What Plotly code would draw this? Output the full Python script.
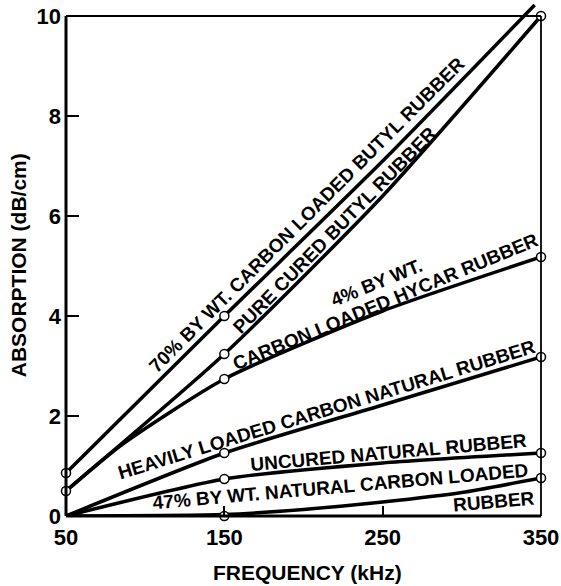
import plotly.graph_objects as go

# ---- data ----
freq_70 = [50, 150, 250, 346]
abs_70 = [0.86, 4.0, 7.1, 10.22]

freq_pure = [50, 150, 250, 350]
abs_pure = [0.5, 3.24, 6.4, 10.0]

freq_hycar = [50, 85, 150, 250, 350]
abs_hycar = [0.5, 1.42, 2.74, 4.1, 5.18]

freq_heavy = [50, 150, 250, 350]
abs_heavy = [0.0, 1.26, 2.22, 3.18]

freq_uncured = [50, 150, 250, 350]
abs_uncured = [0.0, 0.74, 1.06, 1.26]

freq_47 = [50, 150, 200, 250, 300, 350]
abs_47 = [0.0, 0.03, 0.13, 0.28, 0.47, 0.76]

# measured points (open circles)
pts_freq = [50, 50, 150, 150, 150, 150, 150, 150, 350, 350, 350, 350, 350]
pts_abs = [0.86, 0.5, 4.0, 3.24, 2.74, 1.26, 0.74, 0.0, 10.0, 5.18, 3.18, 1.26, 0.76]

x_ticks = [50, 150, 250, 350]
y_ticks = [0, 2, 4, 6, 8, 10]

labels = [
    ("70% BY WT. CARBON LOADED BUTYL RUBBER", 202.2, 6.04, -45),
    ("PURE CURED BUTYL RUBBER", 219.3, 5.72, -45.5),
    ("4% BY WT.", 246.4, 4.68, -22),
    ("CARBON LOADED HYCAR RUBBER", 252.1, 4.3, -22.5),
    ("HEAVILY LOADED CARBON NATURAL RUBBER", 214.8, 2.13, -17),
    ("UNCURED NATURAL RUBBER", 253.4, 1.27, -5),
    ("47% BY WT. NATURAL CARBON LOADED", 223.1, 0.6, -5),
    ("RUBBER", 320.3, 0.3, -5),
]

FONT = "Liberation Sans, Arial, Helvetica, sans-serif"
X0, X1 = 50, 350
Y0, Y1 = 0, 10.3

fig = go.Figure()
series = [
    (freq_70, abs_70), (freq_pure, abs_pure), (freq_hycar, abs_hycar),
    (freq_heavy, abs_heavy), (freq_uncured, abs_uncured), (freq_47, abs_47),
]
for fx, fy in series:
    fig.add_trace(go.Scatter(
        x=fx, y=fy, mode="lines",
        line=dict(color="black", width=3.5, shape="spline", smoothing=0.6),
        showlegend=False, hoverinfo="skip"))

fig.add_trace(go.Scatter(
    x=pts_freq, y=pts_abs, mode="markers", cliponaxis=False,
    marker=dict(symbol="circle", size=9, color="white",
                line=dict(color="black", width=1.5)),
    showlegend=False, hoverinfo="skip"))

def px(v):
    return (v - X0) / (X1 - X0)

def py(v):
    return (v - Y0) / (Y1 - Y0)

shapes = [
    dict(type="line", xref="paper", yref="paper", x0=px(50), x1=px(50), y0=py(0), y1=py(10),
         line=dict(color="black", width=3)),
    dict(type="line", xref="paper", yref="paper", x0=px(50), x1=px(350), y0=py(0), y1=py(0),
         line=dict(color="black", width=3)),
    dict(type="line", xref="paper", yref="paper", x0=px(50), x1=px(350), y0=py(10), y1=py(10),
         line=dict(color="black", width=1.8)),
    dict(type="line", xref="paper", yref="paper", x0=px(350), x1=px(350), y0=py(0), y1=py(10),
         line=dict(color="black", width=1.8)),
]

annotations = []
for text, lx, ly, ang in labels:
    annotations.append(dict(
        text=text, x=lx, y=ly, xref="x", yref="y", showarrow=False,
        textangle=ang, xanchor="center", yanchor="middle",
        font=dict(family=FONT, size=19, color="black", weight="bold")))

annotations.append(dict(
    text="FREQUENCY (kHz)", xref="paper", yref="paper", x=0.509, y=-0.109,
    showarrow=False, xanchor="center", yanchor="middle",
    font=dict(family=FONT, size=21, color="black", weight="bold")))
annotations.append(dict(
    text="ABSORPTION (dB/cm)", xref="paper", yref="paper", x=-0.101, y=0.487,
    showarrow=False, xanchor="center", yanchor="middle", textangle=-90,
    font=dict(family=FONT, size=21, color="black", weight="bold")))

fig.update_layout(
    width=561, height=586,
    margin=dict(l=66, r=20, t=1, b=70),
    paper_bgcolor="white", plot_bgcolor="white",
    shapes=shapes, annotations=annotations,
    xaxis=dict(range=[X0, X1], tickvals=x_ticks, ticks="inside", ticklen=10,
               tickwidth=1.5, tickcolor="black", showgrid=False, zeroline=False,
               showline=False, ticklabelstandoff=6,
               tickfont=dict(family=FONT, size=22, color="black", weight="bold")),
    yaxis=dict(range=[Y0, Y1], tickvals=y_ticks, ticks="inside", ticklen=13,
               tickwidth=2, tickcolor="black", showgrid=False, zeroline=False,
               showline=False, ticklabelstandoff=4,
               tickfont=dict(family=FONT, size=22, color="black", weight="bold")),
)

fig.write_html("out.html")
